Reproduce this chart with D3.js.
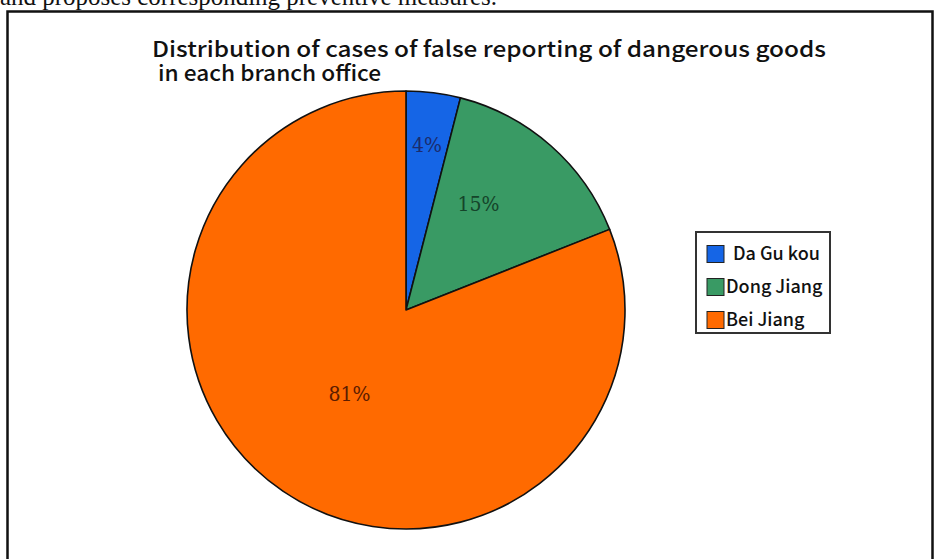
<!DOCTYPE html>
<html>
<head>
<meta charset="utf-8">
<script src="https://cdn.jsdelivr.net/npm/d3@7"></script>
<style>
  body { margin: 0; background: #fff; }
</style>
</head>
<body>
<div id="main"></div>
<script>
// values
const offices = ['Da Gu kou', 'Dong Jiang', 'Bei Jiang'];
const shares = [4, 15, 81];
const labels = ['4%', '15%', '81%'];
const titleLines = ['Distribution of cases of false reporting of dangerous goods', 'in each branch office'];
const captionText = 'and proposes corresponding preventive measures.';

const fills = ['#1565e6', '#399a64', '#ff6a00'];
const labelColors = ['#1b2c6e', '#15442a', '#5c1c00'];
// how far out each label sits, as a part of the radius
const labelR = [0.76, 0.5, 0.46];

class PieChart {
  constructor(config) {
    this.config = config;
    this.svg = null;
    this.slices = [];

    this.createSvg();
  }

  createSvg() {
    this.svg = d3.select(this.config.div)
      .append('svg')
      .attr('width', this.config.width)
      .attr('height', this.config.height)
      .style('display', 'block');
  }

  renderFrame() {
    this.svg.append('text')
      .attr('x', 0)
      .attr('y', 5)
      .attr('font-family', 'Liberation Serif, Times New Roman, serif')
      .attr('font-size', 25)
      .attr('fill', '#111')
      .attr('textLength', 497)
      .attr('lengthAdjust', 'spacingAndGlyphs')
      .text(captionText);

    this.svg.append('rect')
      .attr('x', 7.5)
      .attr('y', 11.5)
      .attr('width', 925)
      .attr('height', 600)
      .attr('fill', 'none')
      .attr('stroke', '#111')
      .attr('stroke-width', 2.5);
  }

  renderTitle() {
    let t = this.svg.append('g')
      .attr('font-family', 'Noto Sans CJK SC, Noto Sans, sans-serif')
      .attr('font-weight', 500)
      .attr('font-size', 22)
      .attr('fill', '#111');

    t.append('text')
      .attr('x', 152)
      .attr('y', 57)
      .attr('textLength', 674)
      .attr('lengthAdjust', 'spacingAndGlyphs')
      .text(titleLines[0]);

    t.append('text')
      .attr('x', 158)
      .attr('y', 81)
      .attr('textLength', 223)
      .attr('lengthAdjust', 'spacingAndGlyphs')
      .text(titleLines[1]);
  }

  renderPie() {
    let c = this.config;
    let pie = d3.pie().sort(null).value(d => d);
    this.slices = pie(shares);

    let arc = d3.arc().innerRadius(0).outerRadius(c.radius);
    let g = this.svg.append('g')
      .attr('transform', `translate(${c.cx},${c.cy})`);

    g.selectAll('path')
      .data(this.slices)
      .join('path')
      .attr('d', arc)
      .attr('fill', (d, i) => fills[i])
      .attr('stroke', '#111')
      .attr('stroke-width', 1.6)
      .attr('stroke-linejoin', 'round');

    g.selectAll('text')
      .data(this.slices)
      .join('text')
      .attr('transform', (d, i) => {
        let r = c.radius * labelR[i];
        let a = d3.arc().innerRadius(r).outerRadius(r);
        let [x, y] = a.centroid(d);
        // the 15% label sits a bit higher than its mid angle
        if (i === 1) y -= 24;
        return `translate(${x},${y})`;
      })
      .attr('text-anchor', 'middle')
      .attr('dy', '0.35em')
      .attr('font-family', 'DejaVu Serif Condensed, DejaVu Serif, serif')
      .attr('font-size', 21)
      .attr('fill', (d, i) => labelColors[i])
      .text((d, i) => labels[i]);
  }

  renderLegend() {
    let lg = this.svg.append('g')
      .attr('transform', 'translate(696,232)');

    lg.append('rect')
      .attr('width', 134)
      .attr('height', 101)
      .attr('fill', '#fff')
      .attr('stroke', '#333')
      .attr('stroke-width', 2);

    let y = d3.scalePoint().domain(offices).range([22, 88]);

    let row = lg.selectAll('g.row')
      .data(offices)
      .join('g')
      .attr('class', 'row')
      .attr('transform', d => `translate(0,${y(d)})`);

    row.append('rect')
      .attr('x', 11)
      .attr('y', -8.5)
      .attr('width', 17)
      .attr('height', 17)
      .attr('fill', (d, i) => fills[i])
      .attr('stroke', '#222')
      .attr('stroke-width', 1);

    row.append('text')
      .attr('x', (d, i) => i === 0 ? 37 : 30)
      .attr('dy', '0.36em')
      .attr('font-family', 'Noto Sans CJK SC, Noto Sans, sans-serif')
      .attr('font-weight', 500)
      .attr('font-size', 18)
      .attr('fill', '#111')
      .text(d => d);
  }
}

function main() {
  let c = {div: '#main', width: 936, height: 559, cx: 406, cy: 310, radius: 219};

  let chart = new PieChart(c);
  chart.renderFrame();
  chart.renderTitle();
  chart.renderPie();
  chart.renderLegend();
}

main();
</script>
</body>
</html>
